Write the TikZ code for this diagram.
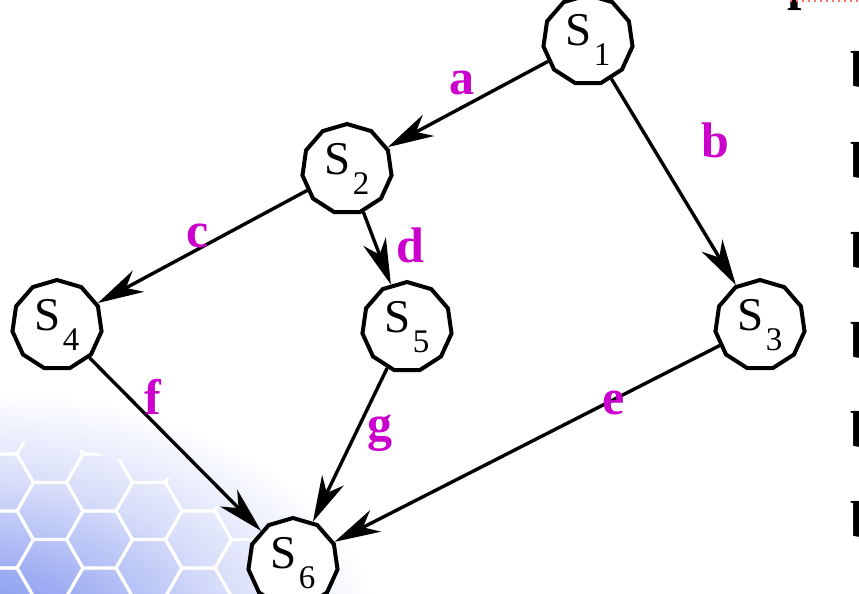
\documentclass[tikz,border=0pt]{standalone}
\usepackage{fontspec}
\setmainfont{Liberation Serif}
\usepackage{xcolor}
\usepackage{tikz}
\usetikzlibrary{arrows.meta,shapes.geometric}
\definecolor{lblpink}{RGB}{204,0,204}
\definecolor{hexblue}{RGB}{125,145,238}
\pgfdeclareradialshading{cornerfade}{\pgfpoint{0bp}{0bp}}{color(0bp)=(hexblue);
  color(7bp)=(hexblue!75!white);color(16bp)=(hexblue!30!white);
  color(25bp)=(white);color(50bp)=(white)}

\newcommand{\stname}[1]{\fontsize{23.5}{24}\selectfont S\kern1pt\raisebox{-10pt}{\fontsize{16.5}{16}\selectfont #1}}

\begin{document}
\begin{tikzpicture}[x={(0.5pt,0pt)},y={(0pt,-0.5pt)},
    state/.style={draw,line width=2pt,regular polygon,regular polygon sides=11,
      minimum size=45pt,inner sep=0pt,fill=white},
    arc/.style={line width=1.7pt,-{Stealth[length=23pt,width=12pt,inset=7pt]}},
    lbl/.style={text=lblpink,font=\fontsize{25}{25}\selectfont\bfseries,anchor=base},
    side/.style={font=\fontsize{26}{26}\selectfont\bfseries,anchor=base west,inner sep=0pt}]
  \useasboundingbox (0,0) rectangle (859,594);
  \clip (0,0) rectangle (859,594);
  \shade[shading=cornerfade] (-20,640) ellipse (400 and 250);
  \begin{scope}
    \clip (-20,640) ellipse (320 and 200);
    \foreach \i in {-1,...,8}
      \foreach \j in {-4,...,2} {
        \pgfmathsetmacro{\cx}{50+49.5*\i}
        \pgfmathsetmacro{\cy}{511+57*\j+28.5*mod(\i+2,2)}
        \draw[white,line width=1.5pt] (\cx,\cy) +(0:33) -- +(60:33) -- +(120:33)
          -- +(180:33) -- +(240:33) -- +(300:33) -- cycle;
      }
  \end{scope}

  \node[state] (s1) at (588,40) {\stname{1}};
  \node[state] (s2) at (347,169) {\stname{2}};
  \node[state] (s3) at (760,325) {\stname{3}};
  \node[state] (s4) at (57,325) {\stname{4}};
  \node[state] (s5) at (407,327) {\stname{5}};
  \node[state] (s6) at (293,563) {\stname{6}};

  \draw[arc] (s1) -- (s2);
  \draw[arc] (s1) -- (s3);
  \draw[arc] (s2) -- (s4);
  \draw[arc] (s2) -- (s5);
  \draw[arc] (s4) -- (s6);
  \draw[arc] (s5) -- (s6);
  \draw[arc] (s3) -- (s6);

  \node[lbl] at (462,95) {a};
  \node[lbl] at (715,157) {b};
  \node[lbl] at (198,247) {c};
  \node[lbl] at (410,262) {d};
  \node[lbl] at (614,415) {e};
  \node[lbl] at (153,415) {f};
  \node[lbl] at (380,440) {g};

  \node[side] at (787,-1) {p};
  \draw[red!55,dotted,line width=1pt] (790,1) -- (859,1);
  \foreach \yb in {88,178,268,358,447,537}
    \node[side] at (850,\yb) {b};
\end{tikzpicture}
\end{document}
